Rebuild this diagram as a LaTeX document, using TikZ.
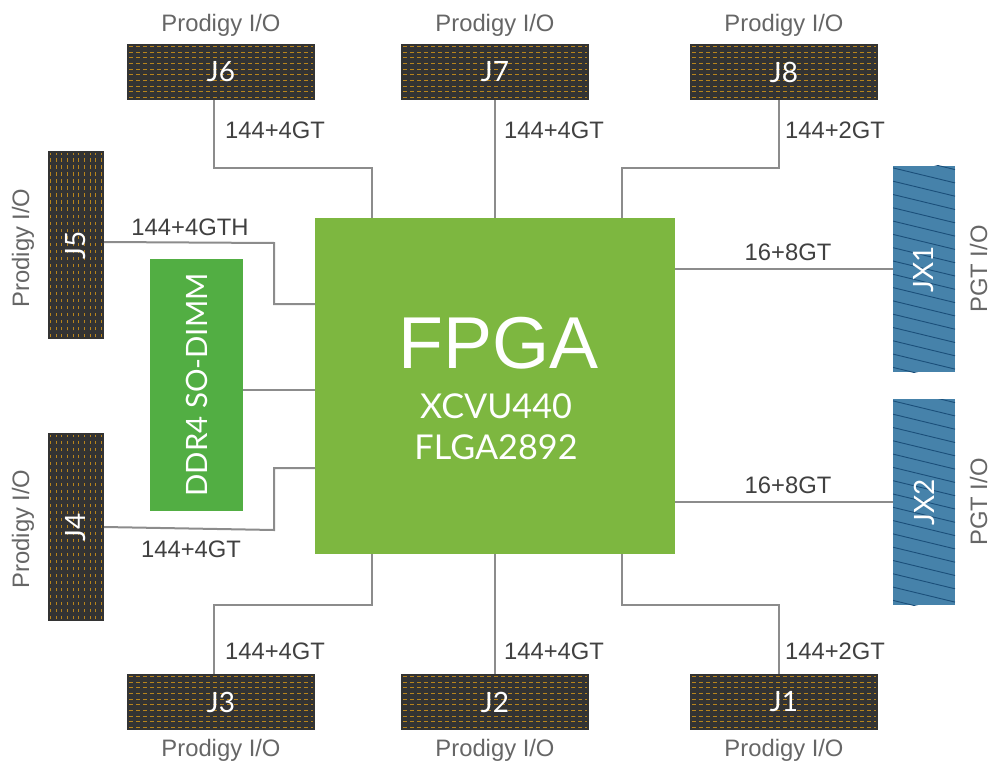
\documentclass[tikz,border=0pt]{standalone}
\usepackage{xcolor}
\usepackage{fontspec}
\setmainfont{Liberation Sans}
\newfontfamily\boxfont{Lato}
\usepackage{tikz}

\definecolor{pinbg}{HTML}{333333}
\definecolor{pinfg}{HTML}{B8841C}
\definecolor{fpgagreen}{HTML}{7DB740}
\definecolor{ddrgreen}{HTML}{52AE43}
\definecolor{jxblue}{HTML}{4682AA}
\definecolor{jxline}{HTML}{1B4F7A}

\tikzset{
    pinbox/.style={minimum width=188pt, minimum height=56pt, inner sep=0pt, outer sep=0pt,
        fill=pinbg, text=white, font=\boxfont\fontsize{28}{28}\selectfont,
        path picture={
            \foreach \r in {-25.5,-19.8,...,26}
                \draw[draw=pinfg, line width=0.7pt, dash pattern=on 3.5pt off 3.5pt]
                    ([shift={(-92pt,\r pt)}]path picture bounding box.center) -- ++(184pt,0pt);
        }},
    jxbox/.style={minimum width=206pt, minimum height=62pt, inner sep=0pt, outer sep=0pt, rotate=90,
        fill=jxblue, text=white, font=\boxfont\fontsize{28}{28}\selectfont,
        path picture={
            \foreach \s in {-125,-111.7,...,125}
                \draw[draw=jxline, line width=0.9pt]
                    ([shift={(\s pt,31pt)}]path picture bounding box.center) -- ++(-15pt,-62pt);
        }},
    link/.style={draw=black!45, line width=2pt},
    iolabel/.style={text=black!60, font=\fontsize{23.8}{24}\selectfont, inner sep=0pt},
    buslabel/.style={text=black!75, font=\fontsize{23.8}{24}\selectfont, inner sep=0pt},
}

\begin{document}
\begin{tikzpicture}[x=1pt, y=-1pt]
    \useasboundingbox (0,0) rectangle (990,762);

    % Draw the FPGA and the memory
    \node[fill=fpgagreen, minimum width=360pt, minimum height=336pt, inner sep=0pt, outer sep=0pt] (fpga) at (495,386) {};
    \node[fill=ddrgreen, minimum width=252pt, minimum height=93pt, inner sep=0pt, outer sep=0pt, rotate=90,
        text=white, font=\boxfont\fontsize{29.4}{30}\selectfont] (ddr) at (196.5,385) {DDR4 SO-DIMM};
    \node[text=white, font=\fontsize{73.5}{74}\selectfont, inner sep=0pt] (fpganame) at (498.5,343) {FPGA};
    \node[text=white, font=\boxfont\fontsize{34.2}{35}\selectfont, inner sep=0pt] (fpgapart) at (496,406) {XCVU440};
    \node[text=white, font=\boxfont\fontsize{34.2}{35}\selectfont, inner sep=0pt] (fpgapkg) at (496,447) {FLGA2892};

    % Draw the connectors on the top and bottom
    \node[pinbox] (j6) at (221,72) {J6};
    \node[pinbox] (j7) at (495,72) {J7};
    \node[pinbox] (j8) at (784,72) {J8};
    \node[pinbox] (j3) at (221,702) {J3};
    \node[pinbox] (j2) at (495,702) {J2};
    \node[pinbox] (j1) at (784,702) {J1};

    % Draw the connectors on the left
    \node[pinbox, rotate=90] (j5) at (76,245) {J5};
    \node[pinbox, rotate=90] (j4) at (76,527) {J4};

    % Draw the connectors on the right
    \node[jxbox] (jx1) at (924,269) {JX1};
    \node[jxbox] (jx2) at (924,502) {JX2};

    % Draw the lines from the connectors to the FPGA
    \draw[link] ([xshift=-7pt]j6.south) |- (372,168) -- ([xshift=-123pt]fpga.north);
    \draw[link] (j7.south) -- (fpga.north);
    \draw[link] ([xshift=-5pt]j8.south) |- (622,168) -- ([xshift=127pt]fpga.north);
    \draw[link] ([xshift=-7pt]j3.north) |- (372,605) -- ([xshift=-123pt]fpga.south);
    \draw[link] (j2.north) -- (fpga.south);
    \draw[link] ([xshift=-5pt]j1.north) |- (622,605) -- ([xshift=127pt]fpga.south);
    \draw[link] ([yshift=3pt]j5.south) -- (274,243) -- (274,304) -- ([yshift=82pt]fpga.west);
    \draw[link] (j4.south) -- (274,530) -- (274,468) -- ([yshift=-82pt]fpga.west);
    \draw[link] ([yshift=-5pt]ddr.south) -- ([yshift=-4pt]fpga.west);
    \draw[link] ([yshift=117pt]fpga.east) -- (jx1.north);
    \draw[link] ([yshift=-116pt]fpga.east) -- (jx2.north);

    % Label the connectors
    \node[iolabel] (l6) at (221,25) {Prodigy I/O};
    \node[iolabel] (l7) at (495,25) {Prodigy I/O};
    \node[iolabel] (l8) at (784,25) {Prodigy I/O};
    \node[iolabel] (l3) at (221,750) {Prodigy I/O};
    \node[iolabel] (l2) at (495,750) {Prodigy I/O};
    \node[iolabel] (l1) at (784,750) {Prodigy I/O};
    \node[iolabel, rotate=90] (l5) at (23,248) {Prodigy I/O};
    \node[iolabel, rotate=90] (l4) at (23,529) {Prodigy I/O};
    \node[iolabel, rotate=90] (lx1) at (978.5,269) {PGT I/O};
    \node[iolabel, rotate=90] (lx2) at (978.5,502) {PGT I/O};

    % Label the lines
    \node[buslabel] (b6) at (275,130) {144+4GT};
    \node[buslabel] (b7) at (554,130) {144+4GT};
    \node[buslabel] (b8) at (835,130) {144+2GT};
    \node[buslabel] (b3) at (275,651) {144+4GT};
    \node[buslabel] (b2) at (554,651) {144+4GT};
    \node[buslabel] (b1) at (835,651) {144+2GT};
    \node[buslabel] (b5) at (190,227) {144+4GTH};
    \node[buslabel] (b4) at (191,549) {144+4GT};
    \node[buslabel] (bx1) at (788,252) {16+8GT};
    \node[buslabel] (bx2) at (788,485) {16+8GT};
\end{tikzpicture}
\end{document}
